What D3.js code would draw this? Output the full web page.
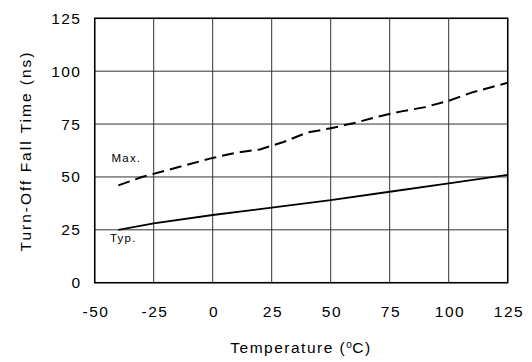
<!DOCTYPE html>
<html><head><meta charset="utf-8">
<script src="https://cdn.jsdelivr.net/npm/d3@7"></script>
<style>body{margin:0;background:#fff}text{font-family:Arial,"Liberation Sans",sans-serif;fill:#000}</style>
</head><body>
<svg id="c" width="532" height="362"></svg>
<script>
const xTicks = [-50, -25, 0, 25, 50, 75, 100, 125];
const yTicks = [0, 25, 50, 75, 100, 125];
const typTemp = [-40, -25, 0, 25, 50, 75, 100, 125];
const typVal  = [25, 28, 32, 35.5, 39, 43, 47, 51];
const maxTemp = [-40, -30, -20, -10, 0, 10, 20, 30, 40, 50, 60, 70, 80, 90, 100, 110, 125];
const maxVal  = [46, 50, 53, 56, 59, 61.5, 63, 66.5, 71, 73, 75.5, 78.5, 81, 83, 86, 90, 94.5];

const svg = d3.select("#c");
const L = 94.7, R = 507.7, T = 18.3, B = 282.7;
const x = d3.scaleLinear().domain([-50, 125]).range([L, R]);
const y = d3.scaleLinear().domain([0, 125]).range([B, T]);
const fmt = d => String(d);

// grid
svg.append("g").selectAll("line").data(xTicks).join("line")
  .attr("x1", d => x(d)).attr("x2", d => x(d)).attr("y1", T).attr("y2", B)
  .attr("stroke", "#333").attr("stroke-width", 1);
svg.append("g").selectAll("line").data(yTicks).join("line")
  .attr("y1", d => y(d)).attr("y2", d => y(d)).attr("x1", L).attr("x2", R)
  .attr("stroke", "#333").attr("stroke-width", 1);
svg.append("rect").attr("x", L).attr("y", T).attr("width", R - L).attr("height", B - T)
  .attr("fill", "none").attr("stroke", "#000").attr("stroke-width", 1.5);

// axes tick labels
const xa = d3.axisBottom(x).tickValues(xTicks).tickSize(0).tickPadding(0).tickFormat(fmt);
const gx = svg.append("g").attr("transform", `translate(0,${B})`).call(xa);
gx.select(".domain").remove();
gx.selectAll("text").attr("dy", null).attr("y", 34).attr("dx", 0.75)
  .style("font-size", "15.5px").style("letter-spacing", "1.5px").attr("fill", "#000");

const ya = d3.axisLeft(y).tickValues(yTicks).tickSize(0).tickPadding(0).tickFormat(fmt);
const gy = svg.append("g").attr("transform", `translate(${L - 13.2},0)`).call(ya);
gy.select(".domain").remove();
gy.selectAll("text").style("font-size", "15.5px").style("letter-spacing", "1.5px").attr("fill", "#000");

// lines
const line = d3.line().x(d => x(d[0])).y(d => y(d[1]));
svg.append("path").datum(typTemp.map((t, i) => [t, typVal[i]])).attr("d", line)
  .attr("fill", "none").attr("stroke", "#000").attr("stroke-width", 1.8);
svg.append("path").datum(maxTemp.map((t, i) => [t, maxVal[i]])).attr("d", line)
  .attr("fill", "none").attr("stroke", "#000").attr("stroke-width", 2).attr("stroke-dasharray", "12,6");

// labels
svg.append("text").attr("x", 111.5).attr("y", 161.7).style("font-size", "11.5px").style("letter-spacing", "1.2px").text("Max.");
svg.append("text").attr("x", 110).attr("y", 242).style("font-size", "11.5px").style("letter-spacing", "1.2px").text("Typ.");

// axis titles
const xt = svg.append("text").attr("x", 301).attr("y", 353).attr("text-anchor", "middle")
  .style("font-size", "15.5px").style("letter-spacing", "1.5px");
xt.append("tspan").text("Temperature (");
xt.append("tspan").attr("dy", -5).style("font-size", "10px").style("letter-spacing", "0.5px").text("o");
xt.append("tspan").attr("dy", 5).text("C)");

svg.append("text").attr("transform", `translate(31,151) rotate(-90)`).attr("text-anchor", "middle")
  .style("font-size", "15.5px").style("letter-spacing", "2px").text("Turn-Off Fall Time (ns)");
</script>
</body></html>
